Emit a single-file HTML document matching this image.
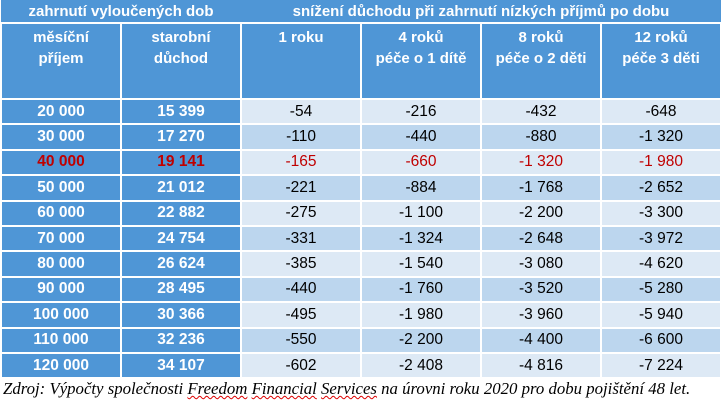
<!DOCTYPE html>
<html><head><meta charset="utf-8"><style>
body{margin:0;width:724px;height:406px;background:#fff;overflow:hidden;font-family:"Liberation Sans",sans-serif}
table{position:absolute;left:0;top:0;width:722px;border-collapse:collapse;table-layout:fixed}
td{border:2px solid #fff;text-align:center;padding:0;font-size:15.5px}
tr.t td{background:#4f96d6;color:#fff;font-weight:bold;font-size:15px;height:22px;border-top:none;border-left:none;border-right:none}
tr.h td{background:#4f96d6;color:#fff;font-weight:bold;vertical-align:top;height:71px;line-height:21px;padding-top:3px;font-size:15px}
#body tr{height:25.4px}
td.k{background:#4f96d6;color:#fff;font-weight:bold}
tr.l td.v{background:#dde9f5;color:#000}
tr.d td.v{background:#bcd6ee;color:#000}
tr.r td{color:#c00000!important}
.cap{position:absolute;left:3px;top:379px;font-family:"Liberation Serif",serif;font-style:italic;font-size:16.8px;color:#000;white-space:nowrap}
.cap u{text-decoration:underline wavy #d00;text-decoration-thickness:1px}
</style></head><body>
<table>
<tr class="t"><td colspan="2">zahrnutí vyloučených dob</td><td colspan="4">snížení důchodu při zahrnutí nízkých příjmů po dobu</td></tr>
<tr class="h"><td>měsíční<br>příjem</td><td>starobní<br>důchod</td><td>1 roku</td><td>4 roků<br>péče o 1 dítě</td><td>8 roků<br>péče o 2 děti</td><td>12 roků<br>péče 3 děti</td></tr>
<tbody id="body"></tbody>
</table>
<div class="cap">Zdroj: Výpočty společnosti <u>Freedom</u> <u>Financial</u> <u>Services</u> na úrovni roku 2020 pro dobu pojištění 48 let.</div>
<script>
const incomes=["20 000","30 000","40 000","50 000","60 000","70 000","80 000","90 000","100 000","110 000","120 000"];
const pensions=["15 399","17 270","19 141","21 012","22 882","24 754","26 624","28 495","30 366","32 236","34 107"];
const y1=["-54","-110","-165","-221","-275","-331","-385","-440","-495","-550","-602"];
const y4=["-216","-440","-660","-884","-1 100","-1 324","-1 540","-1 760","-1 980","-2 200","-2 408"];
const y8=["-432","-880","-1 320","-1 768","-2 200","-2 648","-3 080","-3 520","-3 960","-4 400","-4 816"];
const y12=["-648","-1 320","-1 980","-2 652","-3 300","-3 972","-4 620","-5 280","-5 940","-6 600","-7 224"];
const tb=document.getElementById('body');
incomes.forEach((inc,i)=>{
 const tr=document.createElement('tr');
 tr.className=(i%2?'d':'l')+(i===2?' r':'');
 
 
 const vals=[inc,pensions[i],y1[i],y4[i],y8[i],y12[i]];
 const names=['income','pension','reduction-1y','reduction-4y','reduction-8y','reduction-12y'];
 vals.forEach((v,j)=>{
  const td=document.createElement('td');
  td.textContent=v;
  td.className=j<2?'k':'v';
  
  
  tr.appendChild(td);
 });
 tb.appendChild(tr);
});
</script>
</body></html>
